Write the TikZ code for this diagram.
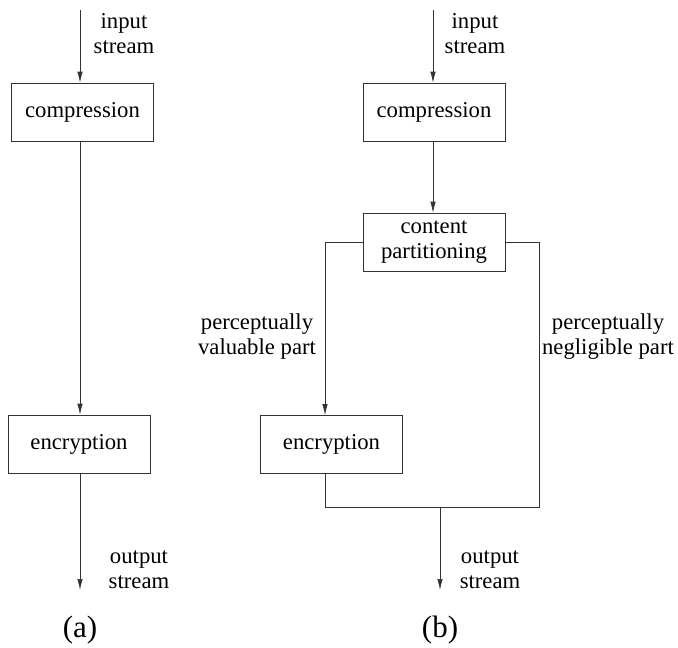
\documentclass[tikz,border=0pt]{standalone}
\usepackage{fontspec}
\setmainfont{Liberation Serif}
\usepackage{tikz}
\usetikzlibrary{arrows.meta,positioning}
\definecolor{FlowLine}{HTML}{333333}

\begin{document}
\begin{tikzpicture}[x=1pt,y=-1pt,
  box/.style={draw=FlowLine,line width=.7pt,minimum width=142pt,minimum height=58pt,inner sep=0pt,align=center,font=\fontsize{22.7}{25}\selectfont},
  lbl/.style={align=center,font=\fontsize{22.7}{25}\selectfont},
  tag/.style={font=\fontsize{31}{34}\selectfont},
  flow/.style={draw=FlowLine,line width=.7pt},
  arr/.style={flow,-{Latex[length=11pt,width=5.5pt]}}]
\useasboundingbox (0,0) rectangle (678,648);
\coordinate (ina) at (80,10);
\node[box] (compa) at (82.5,112) {compression};
\node[box] (encra) at (79,444) {encryption};
\coordinate (outa) at (80,590);
\draw[arr] (ina) -- (ina |- compa.north);
\draw[arr] (compa.south -| ina) -- (encra.north -| ina);
\draw[arr] (encra.south -| ina) -- (outa);
\node[lbl] (inlbla) at (124,34) {input\\stream};
\node[lbl] (outlbla) at (139,570) {output\\stream};
\node[tag] (taga) at (80,630) {(a)};
\coordinate (inb) at (433,10);
\node[box] (compb) at (434,112) {compression};
\node[box] (partb) at (434,242) {content\\partitioning};
\node[box] (encrb) at (331.5,444.5) {encryption};
\coordinate (rjoinb) at (539,507);
\coordinate (joinb) at (440,507);
\coordinate (outb) at (440,590);
\draw[arr] (inb) -- (inb |- compb.north);
\draw[arr] (compb.south -| inb) -- (partb.north -| inb);
\draw[arr] (partb.west) -| ([xshift=-6.5pt]encrb.north);
\draw[flow] (partb.east) -| (rjoinb) -| ([xshift=-6.5pt]encrb.south);
\draw[arr] (joinb) -- (outb);
\node[lbl] (inlblb) at (475,34) {input\\stream};
\node[lbl] (vallbl) at (257,337) {perceptually\\valuable part};
\node[lbl] (neglbl) at (608,337) {perceptually\\negligible part};
\node[lbl] (outlblb) at (490,570) {output\\stream};
\node[tag] (tagb) at (440,630) {(b)};
\end{tikzpicture}
\end{document}
